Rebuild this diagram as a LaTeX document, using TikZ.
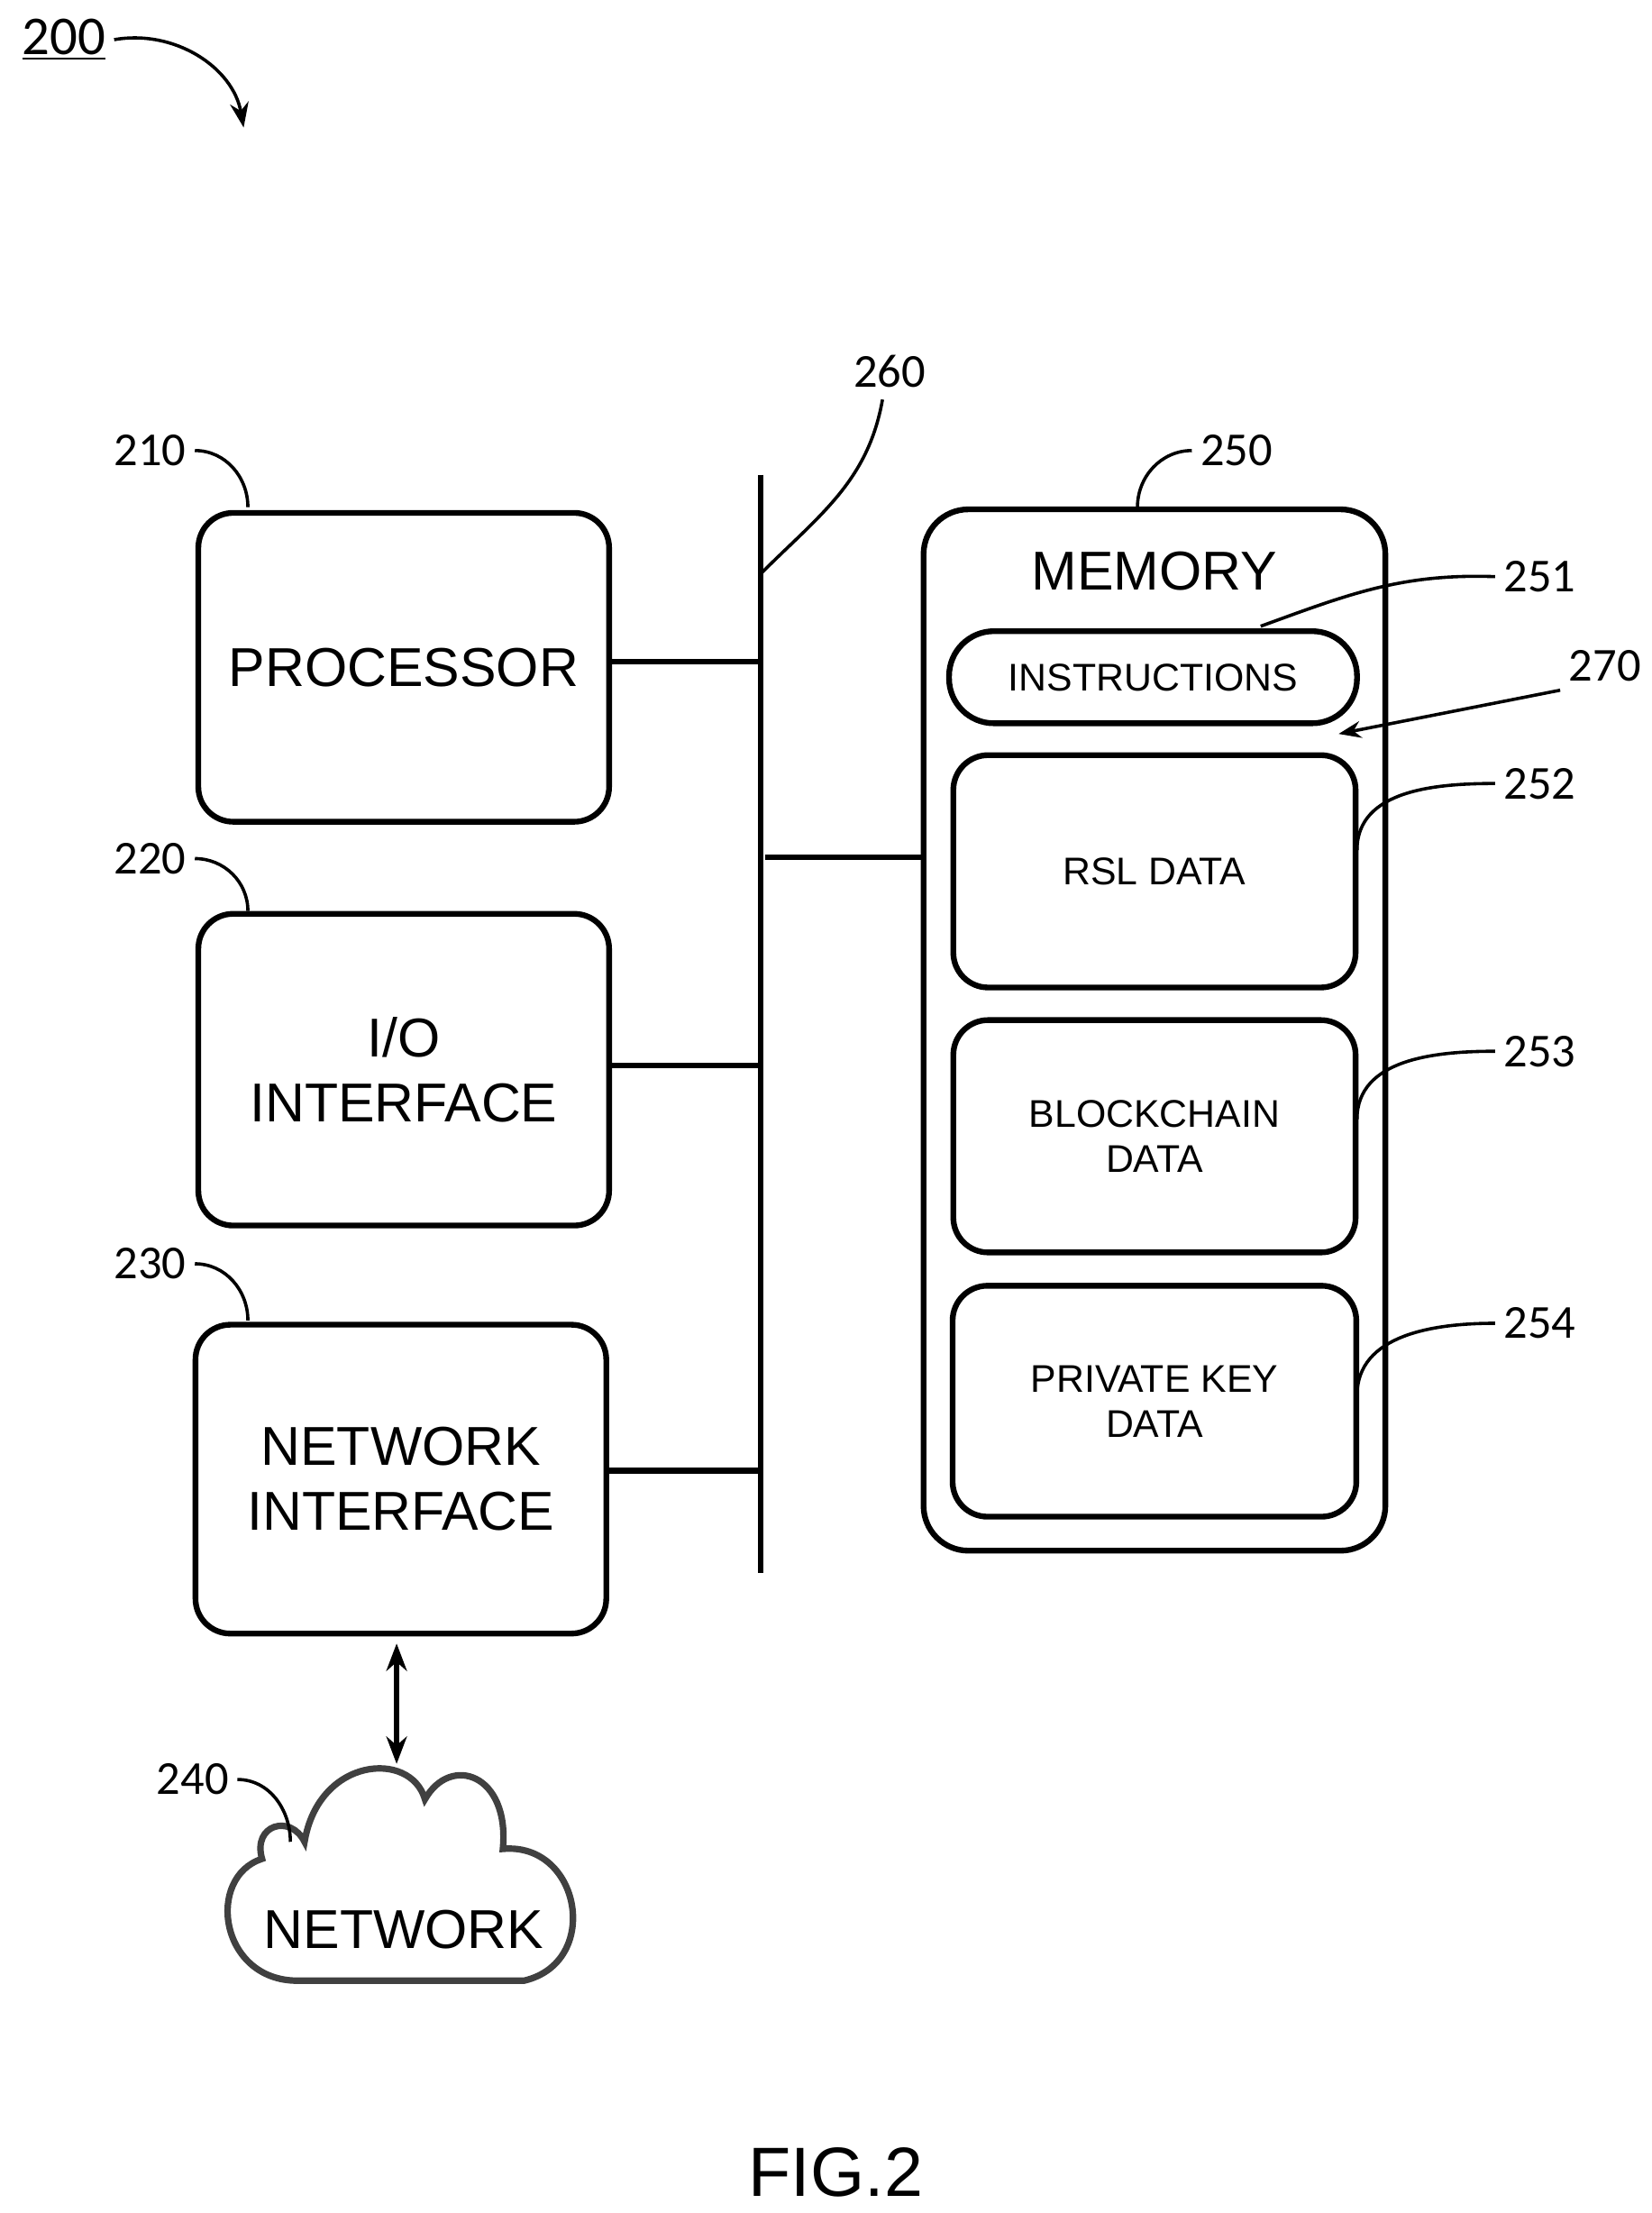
\documentclass[tikz,border=0pt]{standalone}
\usepackage{fontspec}
\setmainfont{Liberation Sans}
\newfontfamily\numfont{Carlito}
\usetikzlibrary{positioning, arrows.meta}
\tikzset{
  blk/.style={draw, line width=2.3pt, rounded corners=14pt, align=center, font=\fontsize{22}{26}\selectfont},
  sub/.style={draw, line width=2.3pt, rounded corners=14pt, align=center, font=\fontsize{15.5}{18}\selectfont},
  num/.style={font=\numfont\fontsize{19}{20}\selectfont},
  lead/.style={line width=1.3pt},
  wire/.style={line width=2.3pt}
}
\begin{document}
\begin{tikzpicture}[x=0.02cm,y=-0.02cm]
\useasboundingbox (0,0) rectangle (1166,1562);
%the title number
\node[num, font=\numfont\fontsize{22}{24}\selectfont] (n200) at (45,28) {\underline{200}};
\draw[lead, -{Stealth[length=10pt]}] (n200.east) to[out=10,in=100] (172,90);

%left column
\node[blk, minimum width=290*0.02cm, minimum height=218*0.02cm] (proc) at (285,471) {PROCESSOR};
\node[blk, minimum width=290*0.02cm, minimum height=220*0.02cm] (io) at (285,755) {I/O\\INTERFACE};
\node[blk, minimum width=290*0.02cm, minimum height=218*0.02cm] (net) at (283,1044) {NETWORK\\INTERFACE};
\draw[line width=2.6pt, draw=black!75] (210,1398) .. controls (155,1398) and (145,1325) .. (185,1312)
  .. controls (178,1288) and (205,1280) .. (215,1300) .. controls (225,1240) and (290,1235) .. (300,1270)
  .. controls (318,1238) and (360,1252) .. (355,1305) .. controls (410,1300) and (425,1385) .. (370,1398) -- cycle;
\node[font=\fontsize{22}{26}\selectfont] (cloud) at (285,1362) {NETWORK};
\coordinate (ctop) at (280,1245);
\draw[wire, {Stealth[length=11pt]}-{Stealth[length=11pt]}] (net.south -| ctop) ++(0,5) -- (ctop);

%bus
\coordinate (bt) at (537,335);
\coordinate (bb) at (537,1110);
\draw[wire] (bt) -- (bb);
\draw[wire] (proc.east |- 0,467) -- (537,467);
\draw[wire] (io.east |- 0,752) -- (537,752);
\draw[wire] (net.east |- 0,1038) -- (537,1038);

%memory
\node[draw, line width=2.3pt, rounded corners=18pt, minimum width=326*0.02cm, minimum height=735*0.02cm] (mem) at (815,727) {};
\node[font=\fontsize{22}{26}\selectfont] (memt) at (815,403) {MEMORY};
\draw[wire] (540,605) -- (mem.west |- 0,605);
\node[sub, rounded corners=18pt, minimum width=288*0.02cm, minimum height=65*0.02cm] (instr) at (814,478) {INSTRUCTIONS};
\node[sub, minimum width=284*0.02cm, minimum height=164*0.02cm] (rsl) at (815,615) {RSL DATA};
\node[sub, minimum width=284*0.02cm, minimum height=164*0.02cm] (bc) at (815,802) {BLOCKCHAIN\\DATA};
\node[sub, minimum width=285*0.02cm, minimum height=163*0.02cm] (pk) at (815,989) {PRIVATE KEY\\DATA};

%reference numbers
\node[num] (n210) at (106,318) {210};
\draw[lead] (n210.east) to[out=0,in=90] (175,358);
\node[num] (n220) at (106,606) {220};
\draw[lead] (n220.east) to[out=0,in=90] (175,643);
\node[num] (n230) at (106,892) {230};
\draw[lead] (n230.east) to[out=0,in=90] (175,932);
\node[num] (n240) at (136,1256) {240};
\draw[lead] (n240.east) to[out=0,in=90] (205,1300);
\node[num] (n260) at (628,262) {260};
\draw[lead] (623,282) to[out=-100,in=45] (537,405);
\node[num] (n250) at (873,318) {250};
\draw[lead] (n250.west) to[out=180,in=90] (803,358);
\node[num] (n251) at (1087,407) {251};
\draw[lead] (n251.west) to[out=178,in=20] (890,442);
\node[num] (n270) at (1133,470) {270};
\draw[lead, -{Stealth[length=9pt]}] (n270.south west) -- (945,518);
\node[num] (n252) at (1087,553) {252};
\draw[lead] (n252.west) to[out=180,in=90] (958,600);
\node[num] (n253) at (1087,742) {253};
\draw[lead] (n253.west) to[out=180,in=90] (958,790);
\node[num] (n254) at (1087,934) {254};
\draw[lead] (n254.west) to[out=180,in=90] (958,985);

\node[font=\fontsize{28}{30}\selectfont] (fig) at (590,1533) {FIG.2};
\end{tikzpicture}
\end{document}
